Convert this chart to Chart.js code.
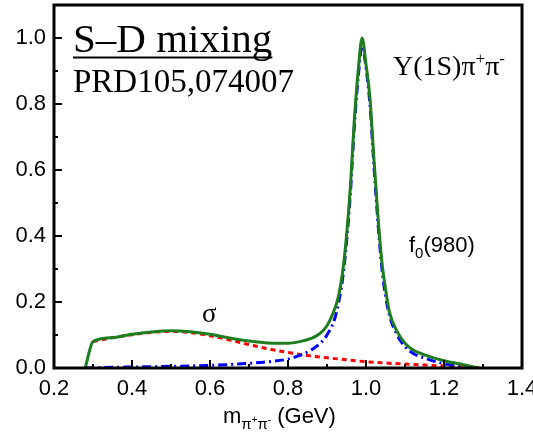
<!DOCTYPE html>
<html>
<head>
<meta charset="utf-8">
<script src="https://cdn.jsdelivr.net/npm/chart.js@4"></script>
<style>
  html, body { margin: 0; padding: 0; background: #fff; }
  #myChart { display: block; }
</style>
</head>
<body>
<canvas id="myChart" width="533" height="432"></canvas>
<script>
// total (green solid)
const totalX = [0.28, 0.30, 0.35, 0.40, 0.45, 0.50, 0.55, 0.60, 0.65, 0.70, 0.75, 0.80, 0.83, 0.86, 0.88, 0.90, 0.92, 0.93, 0.94, 0.95, 0.96, 0.97, 0.98, 0.99, 1.00, 1.01, 1.02, 1.03, 1.04, 1.05, 1.06, 1.08, 1.10, 1.12, 1.15, 1.20, 1.25, 1.29];
const totalY = [0, 0.080, 0.092, 0.102, 0.109, 0.113, 0.110, 0.102, 0.091, 0.082, 0.076, 0.075, 0.080, 0.090, 0.103, 0.128, 0.180, 0.220, 0.290, 0.400, 0.550, 0.750, 0.900, 1.000, 0.920, 0.820, 0.640, 0.470, 0.330, 0.240, 0.170, 0.110, 0.075, 0.055, 0.040, 0.022, 0.010, 0];

// sigma part (red dotted)
const sigmaX = [0.30, 0.35, 0.40, 0.45, 0.50, 0.55, 0.60, 0.65, 0.70, 0.75, 0.80, 0.85, 0.90, 0.95, 1.00, 1.05, 1.10, 1.15, 1.20, 1.25, 1.29];
const sigmaY = [0.080, 0.092, 0.101, 0.108, 0.111, 0.107, 0.098, 0.085, 0.071, 0.058, 0.047, 0.038, 0.031, 0.025, 0.019, 0.015, 0.012, 0.009, 0.006, 0.003, 0];

// f0(980) part (blue dash-dot)
const f0X = [0.28, 0.35, 0.40, 0.50, 0.60, 0.70, 0.75, 0.80, 0.83, 0.86, 0.88, 0.90, 0.92, 0.93, 0.94, 0.95, 0.96, 0.97, 0.98, 0.99, 1.00, 1.01, 1.02, 1.03, 1.04, 1.05, 1.06, 1.08, 1.10, 1.12, 1.15, 1.20, 1.25, 1.28];
const f0Y = [0, 0.002, 0.003, 0.005, 0.008, 0.014, 0.019, 0.027, 0.038, 0.055, 0.072, 0.100, 0.150, 0.200, 0.270, 0.380, 0.530, 0.730, 0.880, 0.975, 0.910, 0.800, 0.620, 0.450, 0.310, 0.220, 0.160, 0.100, 0.065, 0.045, 0.030, 0.013, 0.004, 0];

const xTicks = [0.2, 0.4, 0.6, 0.8, 1.0, 1.2, 1.4];
const yTicks = [0.0, 0.2, 0.4, 0.6, 0.8, 1.0];

function toPoints(xs, ys) {
    return xs.map((x, i) => ({ x: x, y: ys[i] }));
}

const sansFont = "'Liberation Sans', Arial, sans-serif";
const serifFont = "'Liberation Serif', 'Times New Roman', serif";

// frame, inward ticks and text labels
const decorations = {
    id: "decorations",
    afterDraw(chart) {
        const ctx = chart.ctx;
        const a = chart.chartArea;
        const xs = chart.scales.x;
        const ys = chart.scales.y;
        ctx.save();
        ctx.strokeStyle = "#000";

        // ticks
        ctx.lineWidth = 2;
        for (let i = 0; i <= 12; i++) {
            let v = 0.2 + i * 0.1;
            let px = Math.round(xs.getPixelForValue(v));
            let len = (i % 2 === 0) ? 8 : 4;
            ctx.beginPath();
            ctx.moveTo(px, a.bottom);
            ctx.lineTo(px, a.bottom - len);
            ctx.stroke();
        }
        for (let i = 0; i <= 10; i++) {
            let v = i * 0.1;
            let py = Math.round(ys.getPixelForValue(v));
            let len = (i % 2 === 0) ? 8 : 4;
            ctx.beginPath();
            ctx.moveTo(a.left, py);
            ctx.lineTo(a.left + len, py);
            ctx.stroke();
        }

        // frame
        ctx.lineWidth = 3;
        ctx.strokeRect(a.left, a.top, a.right - a.left, a.bottom - a.top);

        ctx.fillStyle = "#000";
        ctx.textBaseline = "alphabetic";
        ctx.textAlign = "left";

        // title block
        ctx.font = "41px " + serifFont;
        ctx.fillText("S\u2013D mixing", 73, 52);
        let w = ctx.measureText("S\u2013D mixing").width;
        ctx.lineWidth = 2;
        ctx.beginPath();
        ctx.moveTo(73, 57.5);
        ctx.lineTo(73 + w, 57.5);
        ctx.stroke();
        ctx.font = "33px " + serifFont;
        ctx.fillText("PRD105,074007", 73, 92);

        // Upsilon(1S) pi+ pi-
        let x = 393;
        ctx.font = "28px " + serifFont;
        ctx.fillText("\u03A5(1S)\u03C0", x, 75);
        x += ctx.measureText("\u03A5(1S)\u03C0").width;
        ctx.font = "17px " + serifFont;
        ctx.fillText("+", x, 64);
        x += ctx.measureText("+").width;
        ctx.font = "28px " + serifFont;
        ctx.fillText("\u03C0", x, 75);
        x += ctx.measureText("\u03C0").width;
        ctx.font = "17px " + serifFont;
        ctx.fillText("-", x, 64);

        // f0(980)
        x = 409;
        ctx.font = "22px " + sansFont;
        ctx.fillText("f", x, 252);
        x += ctx.measureText("f").width;
        ctx.font = "15px " + sansFont;
        ctx.fillText("0", x, 258);
        x += ctx.measureText("0").width;
        ctx.font = "22px " + sansFont;
        ctx.fillText("(980)", x, 252);

        // sigma
        ctx.font = "27px " + serifFont;
        ctx.fillText("\u03C3", 202, 322);

        // x axis title
        x = 223;
        ctx.font = "22px " + sansFont;
        ctx.fillText("m", x, 423);
        x += ctx.measureText("m").width;
        ctx.font = "15px " + sansFont;
        ctx.fillText("\u03C0", x, 429);
        x += ctx.measureText("\u03C0").width;
        ctx.font = "10px " + sansFont;
        ctx.fillText("+", x, 423);
        x += ctx.measureText("+").width;
        ctx.font = "15px " + sansFont;
        ctx.fillText("\u03C0", x, 429);
        x += ctx.measureText("\u03C0").width;
        ctx.font = "10px " + sansFont;
        ctx.fillText("-", x, 423);
        x += ctx.measureText("-").width + 6;
        ctx.font = "22px " + sansFont;
        ctx.fillText("(GeV)", x, 423);

        ctx.restore();
    }
};

new Chart("myChart", {
    type: "line",
    data: {
        datasets: [{
            data: toPoints(totalX, totalY),
            borderColor: "#1e7d1e",
            borderWidth: 3,
            cubicInterpolationMode: "monotone",
            order: 0
        }, {
            data: toPoints(f0X, f0Y),
            borderColor: "#0000ff",
            borderWidth: 3,
            borderDash: [9, 4, 2, 4],
            cubicInterpolationMode: "monotone",
            order: 1
        }, {
            data: toPoints(sigmaX, sigmaY),
            borderColor: "#ff0000",
            borderWidth: 3,
            borderDash: [5, 4],
            cubicInterpolationMode: "monotone",
            order: 2
        }]
    },
    options: {
        responsive: false,
        animation: false,
        elements: { point: { radius: 0 } },
        layout: { padding: { top: 5, right: 11, left: 0, bottom: 0 } },
        plugins: {
            legend: { display: false },
            tooltip: { enabled: false }
        },
        scales: {
            x: {
                type: "linear",
                min: 0.2,
                max: 1.4,
                grid: { display: false, drawTicks: false },
                border: { display: false },
                afterBuildTicks: s => { s.ticks = xTicks.map(v => ({ value: v })); },
                afterFit: s => { s.height = 64; s.paddingLeft = 0; s.paddingRight = 0; },
                ticks: {
                    padding: 8,
                    color: "#000",
                    font: { family: sansFont, size: 22 },
                    callback: v => v.toFixed(1)
                }
            },
            y: {
                min: 0,
                max: 1.1,
                grid: { display: false, drawTicks: false },
                border: { display: false },
                afterBuildTicks: s => { s.ticks = yTicks.map(v => ({ value: v })); },
                afterFit: s => { s.width = 54; s.paddingTop = 0; s.paddingBottom = 0; },
                ticks: {
                    padding: 8,
                    color: "#000",
                    font: { family: sansFont, size: 22 },
                    callback: v => v.toFixed(1)
                }
            }
        }
    },
    plugins: [decorations]
});
</script>
</body>
</html>
